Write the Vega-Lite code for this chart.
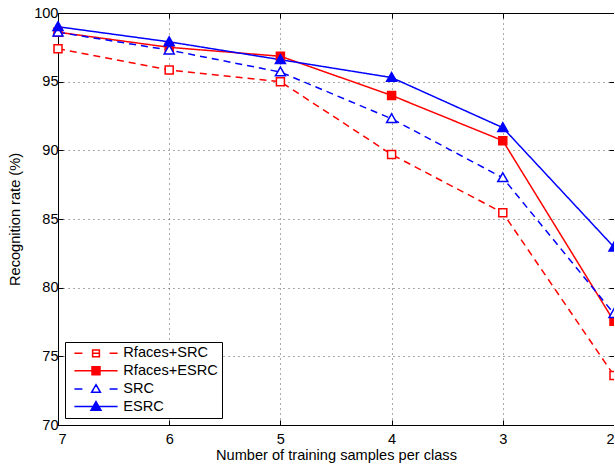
{
  "$schema": "https://vega.github.io/schema/vega-lite/v6.json",
  "width": 556,
  "height": 412,
  "autosize": "none",
  "padding": {"left": 58, "top": 13, "right": 0, "bottom": 42},
  "background": "white",
  "config": {
    "font": "Liberation Sans",
    "view": {"stroke": "black", "strokeWidth": 1},
    "axis": {
      "labelFont": "Liberation Sans",
      "labelFontSize": 14.6,
      "labelColor": "black",
      "titleFont": "Liberation Sans",
      "titleFontSize": 14.6,
      "titleFontWeight": "normal",
      "titleColor": "black",
      "domainColor": "black",
      "tickColor": "black",
      "tickSize": -5,
      "gridColor": "#555555",
      "gridDash": [1, 4],
      "gridOpacity": 1
    },
    "legend": {
      "orient": "bottom-left",
      "offset": 7,
      "padding": 4,
      "rowPadding": 2.4,
      "strokeColor": "black",
      "fillColor": "white",
      "labelFont": "Liberation Sans",
      "labelFontSize": 14.6,
      "labelColor": "black",
      "symbolSize": 64,
      "symbolStrokeWidth": 1.5,
      "symbolOffset": 19.7,
      "labelOffset": 20,
      "symbolOpacity": 1
    }
  },
  "data": {
    "values": [
      {"series": "Rfaces+SRC", "n": 7, "rate": 97.4},
      {"series": "Rfaces+SRC", "n": 6, "rate": 95.85},
      {"series": "Rfaces+SRC", "n": 5, "rate": 95.0},
      {"series": "Rfaces+SRC", "n": 4, "rate": 89.7},
      {"series": "Rfaces+SRC", "n": 3, "rate": 85.45},
      {"series": "Rfaces+SRC", "n": 2, "rate": 73.6},
      {"series": "Rfaces+ESRC", "n": 7, "rate": 98.6},
      {"series": "Rfaces+ESRC", "n": 6, "rate": 97.5},
      {"series": "Rfaces+ESRC", "n": 5, "rate": 96.85},
      {"series": "Rfaces+ESRC", "n": 4, "rate": 94.0},
      {"series": "Rfaces+ESRC", "n": 3, "rate": 90.7},
      {"series": "Rfaces+ESRC", "n": 2, "rate": 77.55},
      {"series": "SRC", "n": 7, "rate": 98.6},
      {"series": "SRC", "n": 6, "rate": 97.3},
      {"series": "SRC", "n": 5, "rate": 95.7},
      {"series": "SRC", "n": 4, "rate": 92.3},
      {"series": "SRC", "n": 3, "rate": 88.0},
      {"series": "SRC", "n": 2, "rate": 78.1},
      {"series": "ESRC", "n": 7, "rate": 99.0},
      {"series": "ESRC", "n": 6, "rate": 97.9},
      {"series": "ESRC", "n": 5, "rate": 96.6},
      {"series": "ESRC", "n": 4, "rate": 95.3},
      {"series": "ESRC", "n": 3, "rate": 91.65},
      {"series": "ESRC", "n": 2, "rate": 82.95}
    ]
  },
  "resolve": {"axis": {"x": "independent", "y": "independent"}},
  "layer": [
    {
      "mark": {"type": "line", "strokeWidth": 1.5},
      "encoding": {
        "x": {
          "field": "n", "type": "quantitative",
          "scale": {"domain": [2, 7], "reverse": true, "nice": false, "zero": false},
          "axis": {"values": [7, 6, 5, 4, 3, 2], "format": "d", "title": "Number of training samples per class", "grid": true, "labelPadding": 11.5, "titlePadding": 1}
        },
        "y": {
          "field": "rate", "type": "quantitative",
          "scale": {"domain": [70, 100], "nice": false, "zero": false},
          "axis": {"values": [70, 75, 80, 85, 90, 95, 100], "title": "Recognition rate (%)", "grid": true, "labelPadding": 5, "titlePadding": 11}
        },
        "color": {
          "field": "series", "type": "nominal",
          "scale": {"range": ["#0000ff", "#ff0000", "#ff0000", "#0000ff"]},
          "legend": null
        },
        "strokeDash": {
          "field": "series", "type": "nominal",
          "scale": {"range": [[1, 0], [1, 0], [7, 5], [7, 5]]},
          "legend": null
        }
      }
    },
    {
      "mark": {"type": "point", "strokeWidth": 1.5, "size": 64, "opacity": 1, "fillOpacity": 1},
      "encoding": {
        "x": {"field": "n", "type": "quantitative", "axis": null},
        "y": {"field": "rate", "type": "quantitative", "axis": null},
        "shape": {
          "field": "series", "type": "nominal",
          "scale": {"range": ["M0,-1.25L1.25,0.95L-1.25,0.95Z", "M-1,-1H1V1H-1Z", "M-1,-1H1V1H-1Z", "M0,-1.25L1.25,0.95L-1.25,0.95Z"]},
          "legend": null
        },
        "stroke": {
          "field": "series", "type": "nominal",
          "scale": {"domain": ["Rfaces+SRC", "Rfaces+ESRC", "SRC", "ESRC"], "range": ["#ff0000", "#ff0000", "#0000ff", "#0000ff"]},
          "legend": {"title": null}
        },
        "fill": {
          "field": "series", "type": "nominal",
          "scale": {"domain": ["Rfaces+SRC", "Rfaces+ESRC", "SRC", "ESRC"], "range": ["#ffffff", "#ff0000", "#ffffff", "#0000ff"]},
          "legend": {
            "title": null,
            "encode": {"symbols": {"update": {"shape": {"signal": "datum.value == 'Rfaces+SRC' ? 'M-5.4,0H-3.4M3.4,0H5.4M-0.85,-0.85H0.85V0.85H-0.85ZM-0.85,0H0.85' : datum.value == 'Rfaces+ESRC' ? 'M-5.4,0H5.4M-1,-1H1V1H-1Z' : datum.value == 'SRC' ? 'M-5.4,0H-3.4M3.4,0H5.4M0,-1.1L1.1,0.8L-1.1,0.8Z' : 'M-5.4,0H5.4M0,-1.25L1.25,0.95L-1.25,0.95Z'"}}}}
          }
        }
      }
    },
    {
      "mark": {"type": "point", "opacity": 0},
      "encoding": {
        "x": {"field": "n", "type": "quantitative", "axis": {"orient": "top", "values": [7, 6, 5, 4, 3, 2], "labels": false, "title": null, "grid": false}},
        "y": {"field": "rate", "type": "quantitative", "axis": {"orient": "right", "values": [70, 75, 80, 85, 90, 95, 100], "labels": false, "title": null, "grid": false}}
      }
    }
  ]
}
